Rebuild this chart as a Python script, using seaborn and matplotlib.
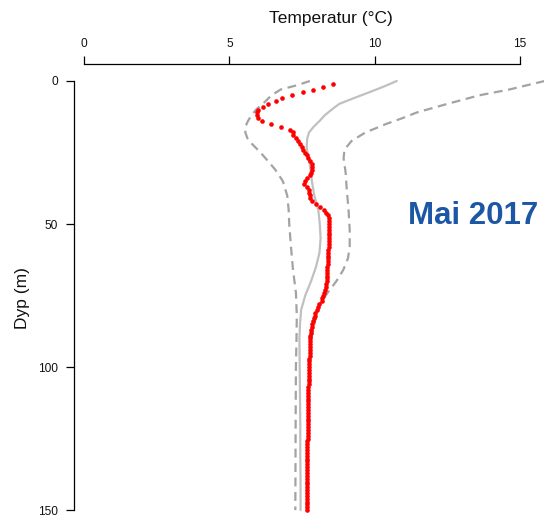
import numpy as np
import pandas as pd
import seaborn as sns
import matplotlib.pyplot as plt

## Data (depth in m, temperature in degC)
depth_red = list(range(1, 151))
temp_red = [
    8.55, 8.23, 7.89, 7.52, 7.17, 6.82, 6.59, 6.34, 6.15, 6.00,
    5.94, 5.94, 6.00, 6.12, 6.43, 6.78, 7.09, 7.18, 7.20, 7.28,
    7.35, 7.43, 7.49, 7.54, 7.60, 7.66, 7.72, 7.78, 7.83, 7.85,
    7.85, 7.82, 7.76, 7.68, 7.60, 7.58, 7.68, 7.73, 7.75, 7.76,
    7.78, 7.85, 7.98, 8.12, 8.25, 8.33, 8.38, 8.42, 8.44, 8.44,
    8.44, 8.44, 8.44, 8.43, 8.43, 8.43, 8.42, 8.42, 8.41, 8.41,
    8.40, 8.40, 8.39, 8.38, 8.37, 8.37, 8.36, 8.36, 8.35, 8.35,
    8.34, 8.33, 8.30, 8.27, 8.23, 8.20, 8.17, 8.10, 8.05, 8.00,
    7.96, 7.93, 7.90, 7.87, 7.85, 7.83, 7.82, 7.80, 7.79, 7.78,
    7.78, 7.77, 7.77, 7.77, 7.76, 7.76, 7.75, 7.75, 7.75, 7.75,
    7.75, 7.74, 7.74, 7.73, 7.73, 7.73, 7.72, 7.72, 7.72, 7.72,
    7.72, 7.71, 7.71, 7.71, 7.71, 7.70, 7.70, 7.70, 7.70, 7.70,
    7.69, 7.69, 7.69, 7.69, 7.69, 7.68, 7.68, 7.68, 7.68, 7.68,
    7.68, 7.67, 7.67, 7.67, 7.67, 7.67, 7.67, 7.67, 7.67, 7.66,
    7.66, 7.66, 7.66, 7.66, 7.66, 7.66, 7.66, 7.66, 7.66, 7.66,
]

depth_mean = [0, 2, 4, 6, 8, 10, 12, 14, 16, 18, 20, 23, 26, 30, 35, 40, 45, 50,
              55, 60, 65, 70, 75, 80, 85, 90, 100, 110, 120, 130, 140, 150]
temp_mean = [10.76, 10.30, 9.80, 9.28, 8.78, 8.52, 8.28, 8.10, 7.90, 7.74, 7.68,
             7.66, 7.70, 7.78, 7.84, 7.92, 8.06, 8.11, 8.14, 8.10, 7.98, 7.81,
             7.61, 7.47, 7.43, 7.41, 7.42, 7.43, 7.44, 7.44, 7.45, 7.45]

depth_max = [0, 3, 5, 8, 11, 13, 15, 18, 21, 24, 27, 32, 38, 45, 52, 58, 62, 66,
             70, 74, 78, 82, 86, 90, 95, 100, 110, 120, 130, 140, 150]
temp_max = [15.85, 14.62, 13.60, 12.50, 11.45, 10.95, 10.40, 9.68, 9.20, 8.96,
            8.93, 9.00, 9.04, 9.10, 9.14, 9.14, 9.08, 8.92, 8.68, 8.38, 8.12,
            7.99, 7.90, 7.82, 7.78, 7.75, 7.73, 7.71, 7.69, 7.67, 7.66]

depth_min = [0, 1.5, 3, 5, 8, 10, 12, 14, 16, 18, 20, 22, 25, 28, 31, 35, 40, 45,
             50, 58, 66, 74, 82, 90, 100, 120, 150]
temp_min = [7.77, 7.32, 6.76, 6.45, 6.15, 5.92, 5.76, 5.64, 5.55, 5.55, 5.62,
            5.78, 6.07, 6.33, 6.58, 6.84, 6.99, 7.04, 7.06, 7.12, 7.19, 7.29,
            7.32, 7.31, 7.29, 7.28, 7.27]

x_ticks = [0, 5, 10, 15]
y_ticks = [0, 50, 100, 150]

sns.set_theme(style="white")
plt.rcParams["font.family"] = ["Liberation Sans", "DejaVu Sans"]

W, H = 544, 517
fig = plt.figure(figsize=(W / 100, H / 100), dpi=100)
ax = fig.add_axes([74 / W, 0, 470 / W, 453 / H])

dash = (0, (4, 2.5))
sns.lineplot(x=temp_min, y=depth_min, sort=False, estimator=None, ax=ax,
             color="#a3a3a3", lw=1.6, linestyle=dash, zorder=2)
sns.lineplot(x=temp_max, y=depth_max, sort=False, estimator=None, ax=ax,
             color="#a3a3a3", lw=1.6, linestyle=dash, zorder=2)
sns.lineplot(x=temp_mean, y=depth_mean, sort=False, estimator=None, ax=ax,
             color="#c0c0c0", lw=1.6, zorder=2)
sns.scatterplot(x=temp_red, y=depth_red, ax=ax, color="#ff0000", s=11,
                linewidth=0, zorder=3)

ax.set_xlim(-0.344, 15.824)
ax.set_ylim(152.4, -5.94)

for s in ["right", "bottom"]:
    ax.spines[s].set_visible(False)
ax.spines["left"].set_bounds(0, 150)
ax.spines["top"].set_bounds(0, 15)
for s in ["left", "top"]:
    ax.spines[s].set_color("black")
    ax.spines[s].set_linewidth(0.9)

ax.xaxis.tick_top()
ax.set_xticks(x_ticks)
ax.set_yticks(y_ticks)
ax.set_xticklabels([str(v) for v in x_ticks])
ax.set_yticklabels([str(v) for v in y_ticks])
ax.tick_params(axis="x", top=True, bottom=False, length=6, width=0.9,
               pad=4, labelsize=8.6, color="black", labelcolor="#111111")
ax.tick_params(axis="y", left=True, length=6, width=0.9, pad=5.5,
               labelsize=8.6, color="black", labelcolor="#111111")
ax.set_xlabel("")
ax.set_ylabel("")
ax.grid(False)

fig.text(331 / W, 1 - 19 / H, "Temperatur (°C)", ha="center", va="center",
         fontsize=12.5, color="#111111")
fig.text(23 / W, 1 - 298 / H, "Dyp (m)", ha="center", va="center",
         rotation=90, fontsize=12.5, color="#111111")
fig.text(408 / W, 1 - 224 / H, "Mai 2017", ha="left", va="baseline",
         fontsize=22.5, fontweight="bold", color="#1c57a5")

fig.savefig("out.png", dpi=100)
